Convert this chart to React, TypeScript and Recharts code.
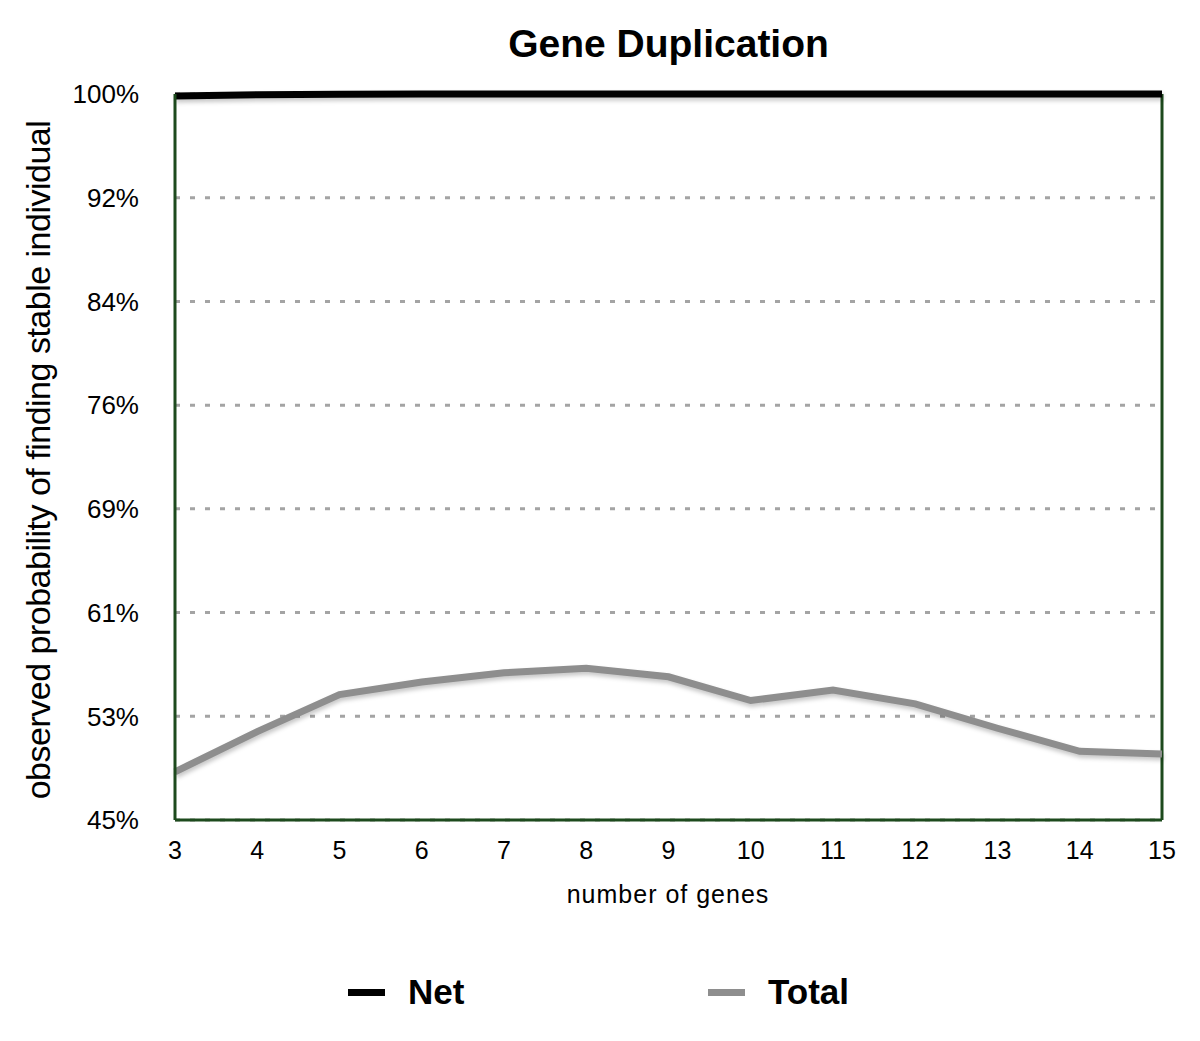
import React from 'react';
import { LineChart, Line, XAxis, YAxis, CartesianGrid, ReferenceLine, Legend } from 'recharts';

const genes = [3, 4, 5, 6, 7, 8, 9, 10, 11, 12, 13, 14, 15];
const netValues = [99.85, 99.95, 99.98, 100, 100, 100, 100, 100, 100, 100, 100, 100, 100];
const totalValues = [48.65, 51.7, 54.5, 55.45, 56.15, 56.5, 55.85, 54.05, 54.85, 53.8, 51.95, 50.2, 50.0];
const yTicks = [45, 52.857, 60.714, 68.571, 76.429, 84.286, 92.143, 100];
const yTickLabels = ['45%', '53%', '61%', '69%', '76%', '84%', '92%', '100%'];
const seriesNames = ['Net', 'Total'];
const seriesColors = ['#000000', '#8e8e8e'];
const chartTitle = 'Gene Duplication';
const xTitle = 'number of genes';
const yTitle = 'observed probability of finding stable individual';

const data = genes.map((g, i) => ({ genes: g, [seriesNames[0]]: netValues[i], [seriesNames[1]]: totalValues[i] }));

const FONT = '"Liberation Sans", Arial, Helvetica, sans-serif';
const BORDER = '#1d4a1d';
const legendLefts = [348, 708];

const YLabel = () => (
  <text
    x={38}
    y={460}
    transform="rotate(-90 38 460)"
    textAnchor="middle"
    dominantBaseline="central"
    fontSize={34}
    letterSpacing={-0.5}
    fill="#000"
  >
    {yTitle}
  </text>
);

const XLabel = () => (
  <text x={668} y={894} textAnchor="middle" dominantBaseline="central" fontSize={25} letterSpacing={1} fill="#000">
    {xTitle}
  </text>
);

const renderLegend = (props: any) => {
  const payload = props.payload || [];
  return (
    <div style={{ position: 'relative', width: 1200, height: 54 }}>
      {payload.map((entry: any, i: number) => (
        <div
          key={entry.value}
          style={{ position: 'absolute', left: legendLefts[i], top: 0, height: 54, display: 'flex', alignItems: 'center' }}
        >
          <span style={{ display: 'inline-block', width: 37, height: 7, background: entry.color }} />
          <span style={{ marginLeft: 23, fontWeight: 'bold', fontSize: 35, color: '#000', lineHeight: '54px' }}>{entry.value}</span>
        </div>
      ))}
    </div>
  );
};

export default function App() {
  return (
    <div style={{ position: 'absolute', left: 0, top: 0, width: 1200, height: 1041, background: '#fff', fontFamily: FONT }}>
      <style>{`.recharts-line-curve { filter: drop-shadow(1px 3px 2px rgba(0,0,0,0.22)); }`}</style>
      <div
        style={{
          position: 'absolute',
          left: 0,
          top: 24,
          width: 1337,
          textAlign: 'center',
          fontSize: 39,
          lineHeight: '39px',
          fontWeight: 'bold',
          color: '#000',
        }}
      >
        {chartTitle}
      </div>
      <LineChart width={1200} height={1041} data={data} margin={{ top: 94, right: 38, bottom: 161, left: 95 }}>
        <CartesianGrid vertical={false} stroke="#a4a4a4" strokeWidth={3} strokeDasharray="5 10" />
        <XAxis
          dataKey="genes"
          type="number"
          domain={[3, 15]}
          ticks={genes}
          height={60}
          axisLine={{ stroke: BORDER, strokeWidth: 3 }}
          tickLine={false}
          tickSize={0}
          tickMargin={21}
          tick={{ fill: '#000', fontSize: 25 }}
          label={<XLabel />}
        />
        <YAxis
          type="number"
          domain={[45, 100]}
          ticks={yTicks}
          width={80}
          axisLine={{ stroke: BORDER, strokeWidth: 3 }}
          tickLine={false}
          tickSize={0}
          tickMargin={36}
          tick={{ fill: '#000', fontSize: 26 }}
          tickFormatter={(v: number) => yTickLabels[yTicks.indexOf(v)]}
          label={<YLabel />}
        />
        <ReferenceLine x={15} stroke={BORDER} strokeWidth={3} />
        <Legend
          layout="horizontal"
          verticalAlign="middle"
          align="center"
          wrapperStyle={{ left: 0, top: 965, width: 1200, height: 54 }}
          content={renderLegend}
        />
        <Line
          type="linear"
          dataKey={seriesNames[1]}
          stroke={seriesColors[1]}
          strokeWidth={7}
          dot={false}
          activeDot={false}
          isAnimationActive={false}
        />
        <Line
          type="linear"
          dataKey={seriesNames[0]}
          stroke={seriesColors[0]}
          strokeWidth={7}
          dot={false}
          activeDot={false}
          isAnimationActive={false}
        />
      </LineChart>
    </div>
  );
}
